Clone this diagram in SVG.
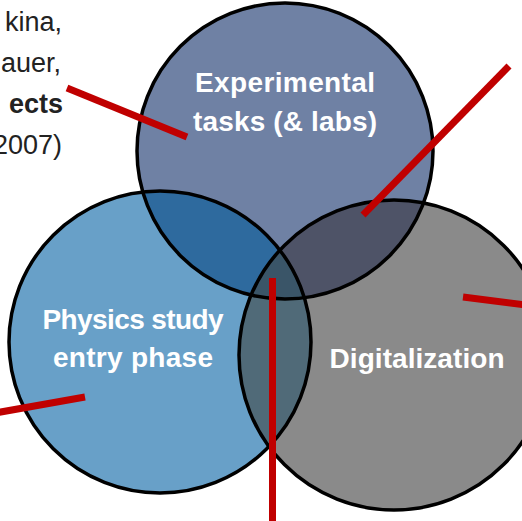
<svg xmlns="http://www.w3.org/2000/svg" width="522" height="521" viewBox="0 0 522 521">
<defs>
<style>
.lbl{font-family:"Liberation Sans",Arial,sans-serif;font-weight:bold;font-size:28px;fill:#ffffff;text-anchor:middle}
.side{font-family:"Liberation Sans",Arial,sans-serif;font-size:27px;fill:#222222;text-anchor:end}
.outline{fill:none;stroke:#000;stroke-width:3.5}
.ptr{stroke:#C00000;stroke-width:7;fill:none}
</style>
<clipPath id="c1"><circle cx="285" cy="151" r="148"/></clipPath>
<clipPath id="c2"><circle cx="160" cy="342" r="151"/></clipPath>
</defs>
<rect width="522" height="521" fill="#fff"/>
<g id="side-text">
<text class="side" x="62" y="31">kina,</text>
<text class="side" x="61" y="72">auer,</text>
<text class="side" x="63" y="113" font-weight="bold">ects</text>
<text class="side" x="62" y="154">2007)</text>
</g>
<g id="fills">
<circle cx="285" cy="151" r="148" fill="#6F81A4"/>
<circle cx="160" cy="342" r="151" fill="#68A0C8"/>
<circle cx="394" cy="355" r="155" fill="#8A8A8A"/>
<circle cx="160" cy="342" r="151" fill="#2E6A9E" clip-path="url(#c1)"/>
<circle cx="394" cy="355" r="155" fill="#4E5367" clip-path="url(#c1)"/>
<circle cx="394" cy="355" r="155" fill="#506A78" clip-path="url(#c2)"/>
<g clip-path="url(#c1)"><circle cx="394" cy="355" r="155" fill="#3A5568" clip-path="url(#c2)"/></g>
</g>
<g id="node-experimental">
<circle class="outline" cx="285" cy="151" r="148"/>
<text class="lbl" x="285" y="92" textLength="180" lengthAdjust="spacing">Experimental</text>
<text class="lbl" x="285" y="131" textLength="184" lengthAdjust="spacing">tasks (&amp; labs)</text>
</g>
<g id="node-physics">
<circle class="outline" cx="160" cy="342" r="151"/>
<text class="lbl" x="133" y="329" textLength="181" lengthAdjust="spacing">Physics study</text>
<text class="lbl" x="133" y="367" textLength="160" lengthAdjust="spacing">entry phase</text>
</g>
<g id="node-digital">
<circle class="outline" cx="394" cy="355" r="155"/>
<text class="lbl" x="417" y="368" textLength="175" lengthAdjust="spacing">Digitalization</text>
</g>
<g id="connectors">
<line class="ptr" x1="67" y1="88" x2="187" y2="137"/>
<line class="ptr" x1="509" y1="66" x2="363" y2="215"/>
<line class="ptr" x1="-5" y1="413" x2="85" y2="397"/>
<line class="ptr" x1="272.5" y1="278" x2="272.5" y2="525"/>
<line class="ptr" x1="463" y1="297" x2="526" y2="305"/>
</g>
</svg>
